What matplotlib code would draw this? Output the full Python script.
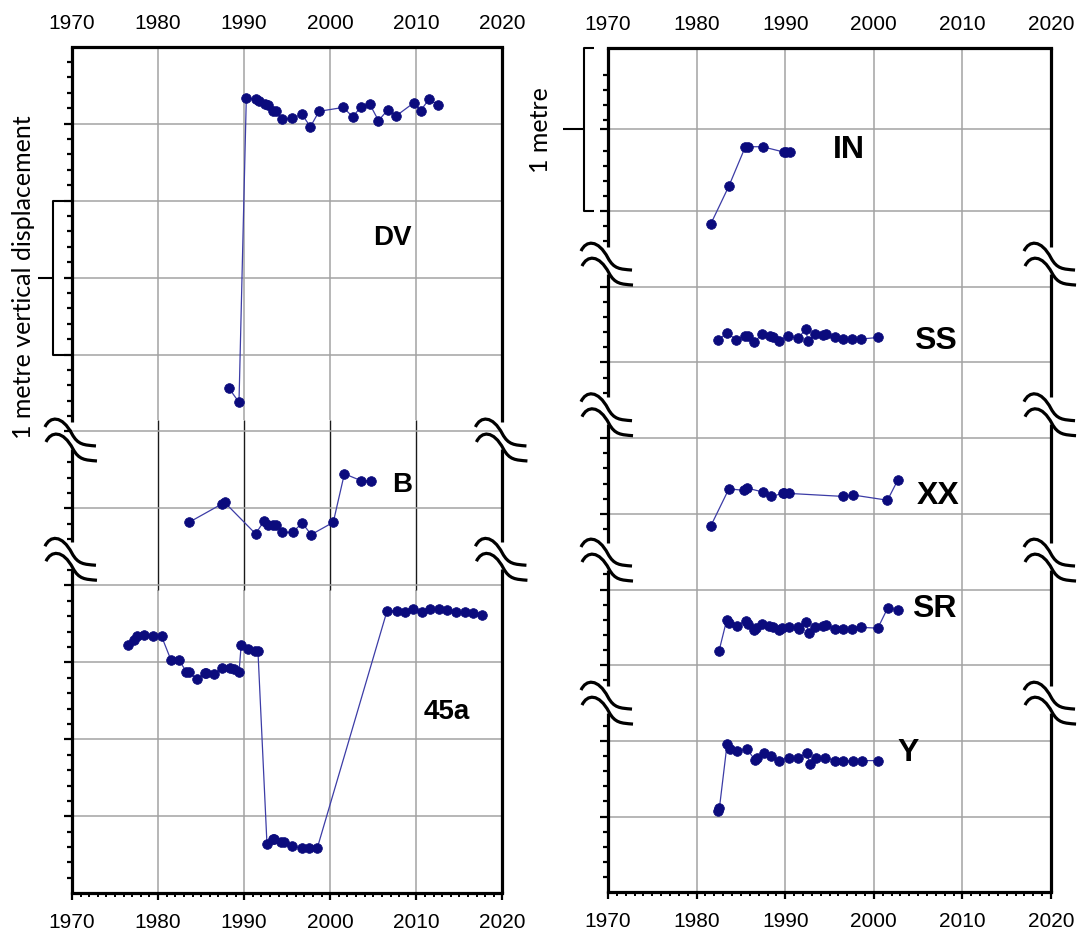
import matplotlib

matplotlib.use("Agg")

import matplotlib.pyplot as plt
import matplotlib.transforms as mtransforms
import numpy as np
from matplotlib.patches import PathPatch
from matplotlib.path import Path
from matplotlib.ticker import FixedLocator, MultipleLocator


DPI = 100
GRID_COLOR = "#a3a3a3"
LINE_COLOR = "#3c3ca6"
MARKER_COLOR = "#0b0b7d"

# levels in grid steps (one grid step = 0.5 m)
dv_year = [1988.24, 1989.4, 1990.25, 1991.37, 1991.73, 1992.45, 1992.73, 1993.4, 1993.66, 1994.4,
           1995.6, 1996.7, 1997.7, 1998.7, 2001.5, 2002.6, 2003.6, 2004.6, 2005.6, 2006.7,
           2007.65, 2009.7, 2010.5, 2011.5, 2012.5]
dv_level = [6.56, 6.38, 10.33, 10.32, 10.30, 10.25, 10.24, 10.16, 10.16, 10.06,
            10.07, 10.12, 9.96, 10.16, 10.21, 10.09, 10.22, 10.25, 10.04, 10.18,
            10.10, 10.27, 10.17, 10.32, 10.24]

b_year = [1983.6, 1987.44, 1987.72, 1991.33, 1992.33, 1992.73, 1993.34, 1993.74, 1994.42, 1995.62,
          1996.74, 1997.79, 2000.35, 2001.64, 2003.6, 2004.72]
b_level = [4.82, 5.06, 5.08, 4.67, 4.84, 4.78, 4.78, 4.78, 4.69, 4.69,
           4.81, 4.66, 4.82, 5.45, 5.36, 5.36]

p45a_year = [1976.5, 1977.2, 1977.5, 1978.4, 1979.4, 1980.4, 1981.5, 1982.4, 1983.3, 1983.6,
             1984.5, 1985.4, 1985.6, 1986.5, 1987.4, 1988.4, 1988.85, 1989.4, 1989.65, 1990.4,
             1991.3, 1991.6, 1992.65, 1993.3, 1993.5, 1994.3, 1994.65, 1995.5, 1996.7, 1997.5,
             1998.5, 2006.6, 2007.7, 2008.7, 2009.6, 2010.6, 2011.6, 2012.6, 2013.6, 2014.6,
             2015.6, 2016.6, 2017.6]
p45a_level = [3.22, 3.29, 3.34, 3.35, 3.34, 3.34, 3.03, 3.03, 2.88, 2.87,
              2.78, 2.86, 2.86, 2.85, 2.93, 2.93, 2.92, 2.87, 3.22, 3.17,
              3.15, 3.15, 0.64, 0.70, 0.71, 0.67, 0.67, 0.61, 0.59, 0.59,
              0.59, 3.67, 3.67, 3.66, 3.69, 3.66, 3.69, 3.69, 3.68, 3.66,
              3.65, 3.64, 3.62]

in_year = [1981.6, 1983.64, 1985.5, 1985.8, 1987.44, 1989.83, 1990.1, 1990.5]
in_level = [8.83, 9.33, 9.85, 9.85, 9.85, 9.78, 9.78, 9.78]

ss_year = [1982.45, 1983.4, 1984.5, 1985.47, 1985.85, 1986.5, 1987.43, 1988.26, 1988.64, 1989.25,
           1990.3, 1991.43, 1992.34, 1992.53, 1993.4, 1994.23, 1994.6, 1995.66, 1996.57, 1997.55,
           1998.6, 2000.45]
ss_level = [7.30, 7.39, 7.30, 7.35, 7.35, 7.27, 7.38, 7.35, 7.34, 7.29,
            7.35, 7.32, 7.44, 7.29, 7.38, 7.36, 7.37, 7.33, 7.31, 7.31,
            7.31, 7.33]

xx_year = [1981.6, 1983.64, 1985.4, 1985.7, 1987.44, 1988.42, 1989.7, 1989.9, 1990.4, 1996.57,
           1997.6, 2001.54, 2002.72]
xx_level = [4.84, 5.33, 5.31, 5.34, 5.29, 5.23, 5.27, 5.27, 5.27, 5.23,
            5.25, 5.18, 5.45]

sr_year = [1982.53, 1983.4, 1983.66, 1984.53, 1985.55, 1985.85, 1986.5, 1986.68, 1987.43, 1988.19,
           1988.64, 1989.25, 1989.62, 1990.38, 1991.4, 1991.58, 1992.34, 1992.64, 1993.4, 1994.23,
           1994.6, 1995.66, 1996.57, 1997.55, 1998.6, 2000.45, 2001.58, 2002.72]
sr_level = [3.19, 3.60, 3.56, 3.52, 3.59, 3.55, 3.46, 3.49, 3.54, 3.52,
            3.50, 3.46, 3.49, 3.50, 3.50, 3.48, 3.57, 3.42, 3.51, 3.52,
            3.53, 3.48, 3.48, 3.48, 3.50, 3.49, 3.76, 3.73]

y_year = [1982.46, 1982.58, 1983.44, 1983.75, 1984.6, 1985.7, 1986.58, 1986.77, 1987.55, 1988.34,
          1989.3, 1990.4, 1991.47, 1992.45, 1992.77, 1993.43, 1994.5, 1995.6, 1996.57, 1997.63,
          1998.64, 2000.49]
y_level = [1.07, 1.12, 1.96, 1.90, 1.87, 1.89, 1.75, 1.77, 1.84, 1.80,
           1.74, 1.78, 1.78, 1.84, 1.69, 1.78, 1.78, 1.74, 1.74, 1.73,
           1.74, 1.74]

LEFT_SERIES = [
    ("DV", dv_year, dv_level, (2007.2, 8.51)),
    ("B", b_year, b_level, (2008.4, 5.31)),
    ("45a", p45a_year, p45a_level, (2013.5, 2.36)),
]
RIGHT_SERIES = [
    ("IN", in_year, in_level, (1997.2, 9.81)),
    ("SS", ss_year, ss_level, (2006.9, 7.29)),
    ("XX", xx_year, xx_level, (2007.3, 5.24)),
    ("SR", sr_year, sr_level, (2006.8, 3.74)),
    ("Y", y_year, y_level, (2003.9, 1.84)),
]

# one stroke of the axis-break mark, in pixels (y pointing down), spine crossing at (0, 0)
BREAK_STROKE = [(-27, -7), (-22, -18), (-10, -19), (0, 0), (6, 11), (12, 11), (24, 12)]


def add_break(fig, ax, side, level):
    trans = fig.dpi_scale_trans + mtransforms.ScaledTranslation(side, level, ax.get_yaxis_transform())

    for dx, dy in ((0, -7.5), (1, 7.5)):
        verts = [((x + dx) / DPI, -(y + dy) / DPI) for x, y in BREAK_STROKE]
        path = Path(verts, [Path.MOVETO] + [Path.CURVE4] * 6)
        fig.add_artist(PathPatch(path, fill=False, lw=2.3, ec="black", transform=trans))


def draw_side_spines(ax, top, breaks, px_per_unit):
    gaps = sorted((level - 8 / px_per_unit, level + 19 / px_per_unit) for level in breaks)
    edges = [0.0]

    for low, high in gaps:
        edges.extend([low, high])

    edges.append(top)

    for side in (0, 1):
        for start, end in zip(edges[::2], edges[1::2]):
            ax.plot([side, side], [start, end], color="black", lw=2.3, solid_capstyle="butt",
                    transform=ax.get_yaxis_transform(), clip_on=False, zorder=5)

    return gaps


def style_column(ax, top, grid_levels, breaks, px_per_unit, dark_band=None):
    ax.spines["left"].set_visible(False)
    ax.spines["right"].set_visible(False)

    for name in ("top", "bottom"):
        ax.spines[name].set_linewidth(2.3)

    gaps = draw_side_spines(ax, top, breaks, px_per_unit)

    decades = np.arange(1970, 2021, 10)
    ax.set_xticks(decades)
    ax.xaxis.set_minor_locator(MultipleLocator(1))
    ax.tick_params(axis="x", which="both", direction="out", top=False, bottom=True,
                   labeltop=False, labelbottom=True)
    ax.tick_params(axis="x", which="major", length=5, width=1.6, pad=9.5, labelsize=15)
    ax.tick_params(axis="x", which="minor", length=3.2, width=1.4)

    top_axis = ax.secondary_xaxis("top")
    top_axis.set_xticks(decades)
    top_axis.tick_params(axis="x", which="both", length=0, pad=10, labelsize=15)
    top_axis.spines["top"].set_visible(False)

    minor = [v for v in np.arange(0.2, top, 0.2)
             if abs(v - round(v)) > 0.05 and not any(lo <= v <= hi for lo, hi in gaps)]
    ax.set_yticks(grid_levels)
    ax.yaxis.set_minor_locator(FixedLocator(minor))
    ax.tick_params(axis="y", which="both", direction="out", left=True, right=False,
                   labelleft=False, width=1.6)
    ax.tick_params(axis="y", which="major", length=6)
    ax.tick_params(axis="y", which="minor", length=3.5)

    ax.grid(axis="y", color=GRID_COLOR, lw=1.1)
    ax.set_axisbelow(True)

    for year in decades[1:-1]:
        if dark_band is None:
            ax.vlines(year, 0, top, color=GRID_COLOR, lw=1.1, zorder=0.5)
        else:
            low, high = dark_band
            ax.vlines(year, 0, low, color=GRID_COLOR, lw=1.1, zorder=0.5)
            ax.vlines(year, low, high, color="#1a1a1a", lw=1.0, zorder=0.5)
            ax.vlines(year, high, top, color=GRID_COLOR, lw=1.1, zorder=0.5)

    for level in breaks:
        add_break(ax.figure, ax, 0, level)
        add_break(ax.figure, ax, 1, level)


def plot_series(ax, series, label_size):
    for name, years, levels, (label_x, label_y) in series:
        ax.plot(years, levels, color=LINE_COLOR, lw=0.9, marker="o", markersize=7,
                markerfacecolor=MARKER_COLOR, markeredgecolor=MARKER_COLOR,
                markeredgewidth=0.5, zorder=3)
        ax.text(label_x, label_y, name, fontsize=label_size, fontweight="bold",
                ha="center", va="center", zorder=4)


def draw_bracket(ax, x_line, x_tip, x_mid, low, high, mid):
    style = dict(color="black", lw=1.5, clip_on=False, solid_capstyle="butt")
    ax.plot([x_tip, x_line, x_line, x_tip], [low, low, high, high], **style)
    ax.plot([x_mid, x_line], [mid, mid], **style)


def main():
    plt.rcParams["font.family"] = ["Liberation Sans", "DejaVu Sans"]

    fig = plt.figure(figsize=(10.84, 9.33), dpi=DPI)
    ax_left = fig.add_axes([0.0664, 0.0426, 0.3971, 0.9074])
    ax_right = fig.add_axes([0.5609, 0.0436, 0.4087, 0.9046])

    left_top = 11.0
    right_top = 11.15

    plot_series(ax_left, LEFT_SERIES, 20)
    plot_series(ax_right, RIGHT_SERIES, 23)

    style_column(ax_left, left_top, np.arange(1, 11), [5.87, 4.32], 76.96, dark_band=(3.94, 6.15))
    style_column(ax_right, right_top, list(range(1, 10)) + [10.09], [8.28, 6.29, 4.37, 2.48], 75.7)

    draw_bracket(ax_left, 1967.84, 1969.05, 1966.05, 7.0, 9.0, 8.0)
    draw_bracket(ax_right, 1967.34, 1968.4, 1964.88, 9.0, right_top, 10.09)

    for ax, top in ((ax_left, left_top), (ax_right, right_top)):
        ax.set_xlim(1970, 2020)
        ax.set_ylim(0, top)

    fig.text(24 / 1084, 1 - 277 / 933, "1 metre vertical displacement", rotation=90,
             family="Lato", fontsize=18, ha="center", va="center")
    fig.text(541 / 1084, 1 - 130 / 933, "1 metre", rotation=90,
             family="Lato", fontsize=18, ha="center", va="center")

    fig.savefig("out.png", dpi=DPI)


main()
